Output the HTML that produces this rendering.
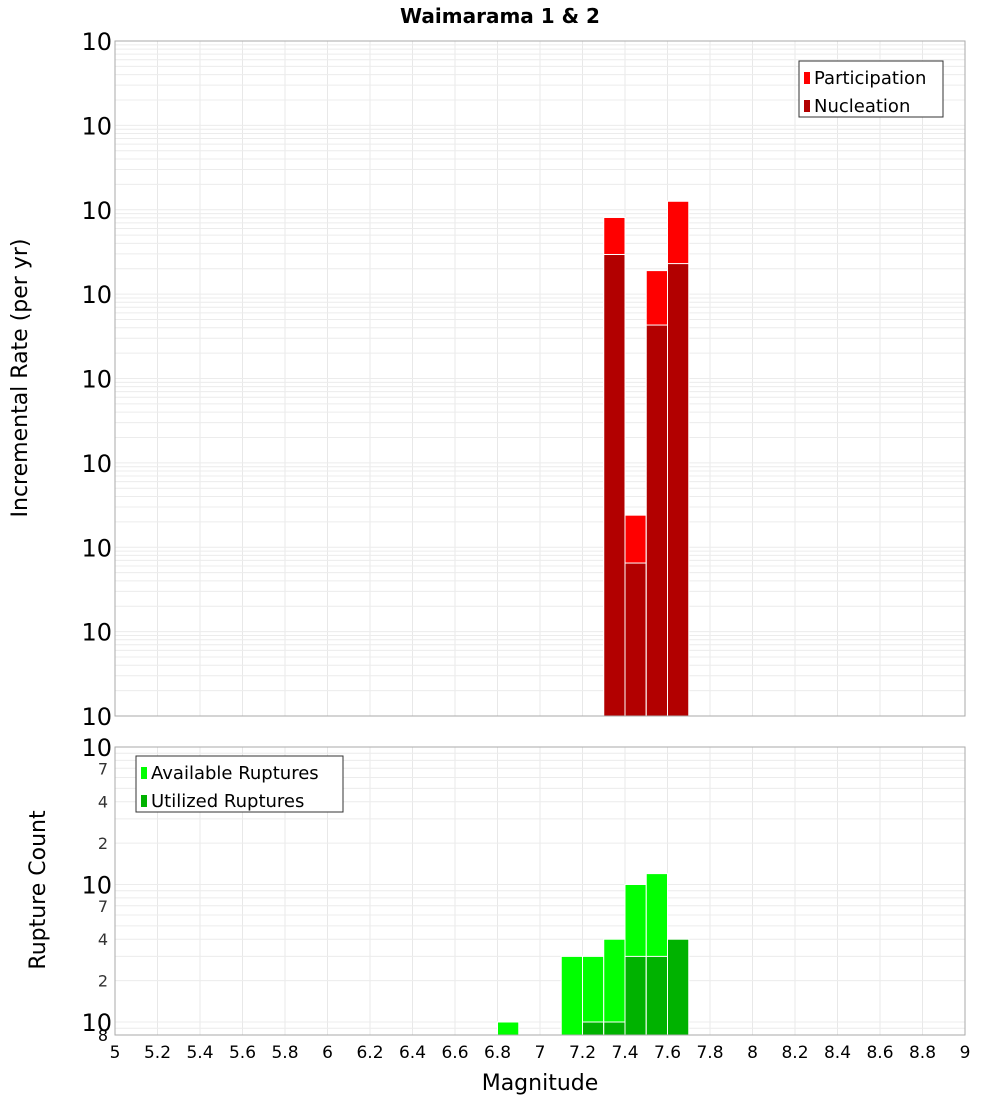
<!DOCTYPE html>
<html><head><meta charset="utf-8"><style>
body{margin:0;background:#fff;font-family:"DejaVu Sans","Liberation Sans",sans-serif}
svg text{font-family:"DejaVu Sans","Liberation Sans",sans-serif}
</style></head><body>
<svg id="c" width="1000" height="1100" xmlns="http://www.w3.org/2000/svg">
<text x="500" y="23" text-anchor="middle" font-size="20" font-weight="bold">Waimarama 1 &amp; 2</text>
<text transform="translate(27,378) rotate(-90)" text-anchor="middle" font-size="22">Incremental Rate (per yr)</text>
<text transform="translate(45,890) rotate(-90)" text-anchor="middle" font-size="22">Rupture Count</text>
<text x="540" y="1090" text-anchor="middle" font-size="22">Magnitude</text>
</svg>
<script>
const binStarts=[6.8,6.9,7.0,7.1,7.2,7.3,7.4,7.5,7.6];
const rateBins=[7.3,7.4,7.5,7.6];
const participation=[8.1e-5,2.4e-8,1.9e-5,1.26e-4];
const nucleation=[2.95e-5,6.5e-9,4.3e-6,2.3e-5];
const countBins=[6.8,7.1,7.2,7.3,7.4,7.5,7.6];
const available=[1,3,3,4,10,12,4];
const utilized=[0,0,1,1,3,3,4];
const xTicks=[5,5.2,5.4,5.6,5.8,6,6.2,6.4,6.6,6.8,7,7.2,7.4,7.6,7.8,8,8.2,8.4,8.6,8.8,9];
const topExps=[-10,-9,-8,-7,-6,-5,-4,-3,-2];
const botMinorLabels=[2,4,7];

const NS="http://www.w3.org/2000/svg";
const svg=document.getElementById('c');
function mk(t,a,p){const e=document.createElementNS(NS,t);for(const k in a)e.setAttribute(k,a[k]);(p||svg).appendChild(e);return e;}
const X0=115,X1=965;
const xs=m=>X0+(m-5)/(9-5)*(X1-X0);
const T0=41,T1=716;
const yTop=v=>T1-(Math.log10(v)+10)/8*(T1-T0);
const B0=747,B1=1035,BDEC=137.5,BONE=1022;
const yBot=v=>BONE-Math.log10(v)*BDEC;

// grids
const g=mk('g',{});


xTicks.forEach(t=>{
  mk('line',{x1:xs(t),x2:xs(t),y1:T0,y2:T1,stroke:'#e8e8e8'},g);
  mk('line',{x1:xs(t),x2:xs(t),y1:B0,y2:B1,stroke:'#e8e8e8'},g);
});
for(let e=-10;e<-2;e++)for(let k=1;k<10;k++){const y=yTop(k*Math.pow(10,e));mk('line',{x1:X0,x2:X1,y1:y,y2:y,stroke:'#ececec'},g);}
for(let e=-1;e<2;e++)for(let k=1;k<10;k++){const y=yBot(k*Math.pow(10,e));if(y>B0&&y<B1)mk('line',{x1:X0,x2:X1,y1:y,y2:y,stroke:'#ececec'},g);}

// top bars
rateBins.forEach((b,i)=>{
  const x=xs(b),w=xs(b+0.1)-x;
  const p=mk('rect',{x:x,y:yTop(participation[i]),width:w,height:T1-yTop(participation[i]),fill:'#ff0000',stroke:'#fff','stroke-width':1});
  
  
  const n=mk('rect',{x:x,y:yTop(nucleation[i]),width:w,height:T1-yTop(nucleation[i]),fill:'#b20000',stroke:'#fff','stroke-width':1});
  
  
});
// bottom bars
countBins.forEach((b,i)=>{
  const x=xs(b),w=xs(b+0.1)-x;
  const a=mk('rect',{x:x,y:yBot(available[i]),width:w,height:B1-yBot(available[i]),fill:'#00ff00',stroke:'#fff','stroke-width':1});
  
  
  if(utilized[i]>0){
    const u=mk('rect',{x:x,y:yBot(utilized[i]),width:w,height:B1-yBot(utilized[i]),fill:'#00b200',stroke:'#fff','stroke-width':1});
    
    
  }
});
// frames
mk('rect',{x:X0,y:T0,width:X1-X0,height:T1-T0,fill:'none',stroke:'#aaa'});
mk('rect',{x:X0,y:B0,width:X1-X0,height:B1-B0,fill:'none',stroke:'#aaa'});

// x tick labels
xTicks.forEach(t=>{
  const tx=mk('text',{x:xs(t),y:1058,'text-anchor':'middle','font-size':17});
  tx.textContent=String(t);
  
  
});
// top y labels
topExps.forEach(e=>{
  const y=yTop(Math.pow(10,e));
  const tx=mk('text',{x:112,y:y+9,'text-anchor':'end','font-size':24});
  
  
  tx.textContent='10';
  const ts=mk('tspan',{dy:-15,'font-size':16});ts.textContent=String(e);
});
// bottom y labels
[0,1,2].forEach(e=>{
  const y=yBot(Math.pow(10,e));
  const tx=mk('text',{x:112,y:y+9,'text-anchor':'end','font-size':24});
  
  
  tx.textContent='10';
  const ts=mk('tspan',{dy:-15,'font-size':16});ts.textContent=String(e);
});
[0,1].forEach(e=>botMinorLabels.forEach(k=>{
  const tx=mk('text',{x:108,y:yBot(k*Math.pow(10,e))+6,'text-anchor':'end','font-size':16,fill:'#333'});
  tx.textContent=String(k);
  
  
}));
{const tx=mk('text',{x:108,y:1041,'text-anchor':'end','font-size':16});tx.textContent='8';

}

// legends
function legend(x,y,w,items,name){
  const lg=mk('g',{});
  
  
  mk('rect',{x:x,y:y,width:w,height:56,fill:'#fff',stroke:'#333'},lg);
  items.forEach((it,i)=>{
    mk('rect',{x:x+5,y:y+11+i*28,width:6,height:12,fill:it[1]},lg);
    const t=mk('text',{x:x+15,y:y+23+i*28,'font-size':18},lg);t.textContent=it[0];
  });
}
legend(799,61,144,[['Participation','#ff0000'],['Nucleation','#b20000']],'rate-legend');
legend(136,756,207,[['Available Ruptures','#00ff00'],['Utilized Ruptures','#00b200']],'count-legend');
</script>
</body></html>
